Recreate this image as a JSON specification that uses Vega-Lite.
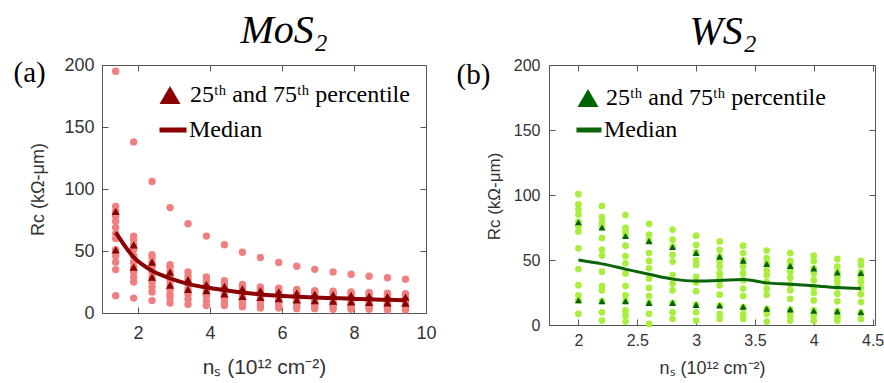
{
  "$schema": "https://vega.github.io/schema/vega-lite/v6.json",
  "padding": {"left": 12, "top": 10, "right": 0, "bottom": 0},
  "spacing": 18,
  "config": {
    "view": {"stroke": "#555", "strokeWidth": 1},
    "axis": {"grid": false, "domain": false, "tickColor": "#555", "tickSize": -6, "labelFlush": false, "labelOverlap": false,
             "labelFont": "Liberation Sans", "labelColor": "#333", "titleFont": "Liberation Sans", "titleColor": "#333", "titleFontWeight": "normal"},
    "title": {"font": "Liberation Serif", "fontStyle": "italic", "fontWeight": "normal", "fontSize": 40, "color": "black", "baseline": "alphabetic", "anchor": "middle"}
  },
  "datasets": {
    "mos2_pts": [
      {"x":1.38,"y":195},{"x":1.38,"y":86},{"x":1.38,"y":82},{"x":1.38,"y":78},{"x":1.38,"y":74},{"x":1.38,"y":69},{"x":1.38,"y":64},{"x":1.38,"y":60},{"x":1.38,"y":51},{"x":1.38,"y":46},{"x":1.38,"y":41},{"x":1.38,"y":35},{"x":1.38,"y":14},
      {"x":1.88,"y":138},{"x":1.88,"y":62},{"x":1.88,"y":59},{"x":1.88,"y":55},{"x":1.88,"y":51},{"x":1.88,"y":46},{"x":1.88,"y":41},{"x":1.88,"y":37},{"x":1.88,"y":33},{"x":1.88,"y":29},{"x":1.88,"y":25},{"x":1.88,"y":12},
      {"x":2.39,"y":106},{"x":2.39,"y":47},{"x":2.39,"y":45},{"x":2.39,"y":41},{"x":2.39,"y":37},{"x":2.39,"y":33},{"x":2.39,"y":29},{"x":2.39,"y":25},{"x":2.39,"y":21},{"x":2.39,"y":17},{"x":2.39,"y":10},
      {"x":2.89,"y":85},{"x":2.89,"y":39},{"x":2.89,"y":37},{"x":2.89,"y":33},{"x":2.89,"y":30},{"x":2.89,"y":26},{"x":2.89,"y":22.5},{"x":2.89,"y":19},{"x":2.89,"y":15},{"x":2.89,"y":12},{"x":2.89,"y":8},
      {"x":3.39,"y":72},{"x":3.39,"y":33},{"x":3.39,"y":30},{"x":3.39,"y":27},{"x":3.39,"y":23},{"x":3.39,"y":19},{"x":3.39,"y":15},{"x":3.39,"y":11},{"x":3.39,"y":7},
      {"x":3.90,"y":62},{"x":3.90,"y":29},{"x":3.90,"y":26},{"x":3.90,"y":23},{"x":3.90,"y":21},{"x":3.90,"y":18},{"x":3.90,"y":14},{"x":3.90,"y":10},{"x":3.90,"y":6},
      {"x":4.40,"y":55},{"x":4.40,"y":26},{"x":4.40,"y":23.5},{"x":4.40,"y":21},{"x":4.40,"y":18},{"x":4.40,"y":15.5},{"x":4.40,"y":12},{"x":4.40,"y":9},{"x":4.40,"y":6},
      {"x":4.90,"y":49},{"x":4.90,"y":23},{"x":4.90,"y":21},{"x":4.90,"y":19},{"x":4.90,"y":16},{"x":4.90,"y":13.5},{"x":4.90,"y":10},{"x":4.90,"y":7.5},{"x":4.90,"y":5},
      {"x":5.40,"y":44.7},{"x":5.40,"y":21},{"x":5.40,"y":19},{"x":5.40,"y":17.5},{"x":5.40,"y":15},{"x":5.40,"y":12.5},{"x":5.40,"y":9},{"x":5.40,"y":6.5},{"x":5.40,"y":4},
      {"x":5.91,"y":40.7},{"x":5.91,"y":20},{"x":5.91,"y":18},{"x":5.91,"y":16.5},{"x":5.91,"y":14},{"x":5.91,"y":11.5},{"x":5.91,"y":8.5},{"x":5.91,"y":6},{"x":5.91,"y":4},
      {"x":6.41,"y":37.8},{"x":6.41,"y":19},{"x":6.41,"y":17},{"x":6.41,"y":15.5},{"x":6.41,"y":13},{"x":6.41,"y":10.5},{"x":6.41,"y":8},{"x":6.41,"y":5.5},{"x":6.41,"y":3.5},
      {"x":6.91,"y":35.2},{"x":6.91,"y":18},{"x":6.91,"y":16.5},{"x":6.91,"y":15},{"x":6.91,"y":12.5},{"x":6.91,"y":10},{"x":6.91,"y":7.5},{"x":6.91,"y":5},{"x":6.91,"y":3.5},
      {"x":7.42,"y":33},{"x":7.42,"y":17.5},{"x":7.42,"y":16},{"x":7.42,"y":14.5},{"x":7.42,"y":12},{"x":7.42,"y":9.5},{"x":7.42,"y":7},{"x":7.42,"y":5},{"x":7.42,"y":3},
      {"x":7.92,"y":31.3},{"x":7.92,"y":17},{"x":7.92,"y":15.5},{"x":7.92,"y":14},{"x":7.92,"y":11.5},{"x":7.92,"y":9},{"x":7.92,"y":7},{"x":7.92,"y":4.5},{"x":7.92,"y":3},
      {"x":8.42,"y":29.7},{"x":8.42,"y":16.5},{"x":8.42,"y":15},{"x":8.42,"y":13.5},{"x":8.42,"y":11},{"x":8.42,"y":8.5},{"x":8.42,"y":6.5},{"x":8.42,"y":4.5},{"x":8.42,"y":3},
      {"x":8.93,"y":28.4},{"x":8.93,"y":16},{"x":8.93,"y":14.5},{"x":8.93,"y":13},{"x":8.93,"y":10.5},{"x":8.93,"y":8},{"x":8.93,"y":6.5},{"x":8.93,"y":4.5},{"x":8.93,"y":2.5},
      {"x":9.43,"y":27.3},{"x":9.43,"y":15.5},{"x":9.43,"y":14},{"x":9.43,"y":12.5},{"x":9.43,"y":10},{"x":9.43,"y":8},{"x":9.43,"y":6},{"x":9.43,"y":4},{"x":9.43,"y":2.5}
    ],
    "mos2_q": [
      {"x":1.38,"y":82},{"x":1.38,"y":51},{"x":1.88,"y":55},{"x":1.88,"y":37},{"x":2.39,"y":41},{"x":2.39,"y":29},
      {"x":2.89,"y":33},{"x":2.89,"y":22.5},{"x":3.39,"y":27},{"x":3.39,"y":19},{"x":3.90,"y":23},{"x":3.90,"y":18},
      {"x":4.40,"y":21.5},{"x":4.40,"y":15.5},{"x":4.90,"y":19.5},{"x":4.90,"y":13.5},{"x":5.40,"y":18},{"x":5.40,"y":12.5},
      {"x":5.91,"y":17},{"x":5.91,"y":11.5},{"x":6.41,"y":16},{"x":6.41,"y":10.5},{"x":6.91,"y":15.3},{"x":6.91,"y":10},
      {"x":7.42,"y":14.7},{"x":7.42,"y":9.5},{"x":7.92,"y":14.2},{"x":7.92,"y":9},{"x":8.42,"y":13.7},{"x":8.42,"y":8.5},
      {"x":8.93,"y":13.2},{"x":8.93,"y":8.2},{"x":9.43,"y":12.8},{"x":9.43,"y":8}
    ],
    "mos2_med": [
      {"x":1.38,"y":65},{"x":1.88,"y":45},{"x":2.39,"y":34},{"x":2.89,"y":28},{"x":3.39,"y":23.5},{"x":3.90,"y":20.5},
      {"x":4.40,"y":18.5},{"x":4.90,"y":16.5},{"x":5.40,"y":15},{"x":5.91,"y":14},{"x":6.41,"y":13.2},{"x":6.91,"y":12.5},
      {"x":7.42,"y":12},{"x":7.92,"y":11.5},{"x":8.42,"y":11},{"x":8.93,"y":10.6},{"x":9.43,"y":10.2}
    ],
    "ws2_pts": [
      {"x":2.0,"y":100.6},{"x":2.0,"y":92.9},{"x":2.0,"y":89},{"x":2.0,"y":85},{"x":2.0,"y":79.4},{"x":2.0,"y":76},{"x":2.0,"y":72},{"x":2.0,"y":59},{"x":2.0,"y":43},{"x":2.0,"y":30.6},{"x":2.0,"y":22.8},{"x":2.0,"y":18.9},{"x":2.0,"y":8.6},
      {"x":2.2,"y":91.6},{"x":2.2,"y":83},{"x":2.2,"y":79},{"x":2.2,"y":75.5},{"x":2.2,"y":67},{"x":2.2,"y":58},{"x":2.2,"y":53.4},{"x":2.2,"y":41},{"x":2.2,"y":30},{"x":2.2,"y":26.7},{"x":2.2,"y":18.4},{"x":2.2,"y":9.8},{"x":2.2,"y":3.4},
      {"x":2.4,"y":84.6},{"x":2.4,"y":74.7},{"x":2.4,"y":72},{"x":2.4,"y":69},{"x":2.4,"y":61},{"x":2.4,"y":53},{"x":2.4,"y":47.5},{"x":2.4,"y":39.7},{"x":2.4,"y":30},{"x":2.4,"y":22.8},{"x":2.4,"y":18.4},{"x":2.4,"y":11.2},{"x":2.4,"y":7.3},{"x":2.4,"y":2.6},
      {"x":2.6,"y":77.8},{"x":2.6,"y":69.5},{"x":2.6,"y":64.8},{"x":2.6,"y":55.3},{"x":2.6,"y":49.3},{"x":2.6,"y":43.6},{"x":2.6,"y":35.8},{"x":2.6,"y":28.5},{"x":2.6,"y":22.3},{"x":2.6,"y":17.1},{"x":2.6,"y":8.6},{"x":2.6,"y":0.8},
      {"x":2.8,"y":73.4},{"x":2.8,"y":65.6},{"x":2.8,"y":60.4},{"x":2.8,"y":54},{"x":2.8,"y":48.8},{"x":2.8,"y":38.4},{"x":2.8,"y":31.9},{"x":2.8,"y":26.7},{"x":2.8,"y":17.1},{"x":2.8,"y":9.8},{"x":2.8,"y":4.7},
      {"x":3.0,"y":68.7},{"x":3.0,"y":61.7},{"x":3.0,"y":56},{"x":3.0,"y":50},{"x":3.0,"y":46.2},{"x":3.0,"y":37.1},{"x":3.0,"y":32.7},{"x":3.0,"y":25.9},{"x":3.0,"y":15.6},{"x":3.0,"y":9.8},{"x":3.0,"y":3.4},
      {"x":3.2,"y":64.3},{"x":3.2,"y":57.8},{"x":3.2,"y":52.7},{"x":3.2,"y":48.8},{"x":3.2,"y":44.9},{"x":3.2,"y":39.7},{"x":3.2,"y":35.8},{"x":3.2,"y":30.6},{"x":3.2,"y":23.3},{"x":3.2,"y":15},{"x":3.2,"y":8.6},{"x":3.2,"y":4.7},
      {"x":3.4,"y":61},{"x":3.4,"y":55.3},{"x":3.4,"y":50},{"x":3.4,"y":44.9},{"x":3.4,"y":39.7},{"x":3.4,"y":34.5},{"x":3.4,"y":28},{"x":3.4,"y":22.3},{"x":3.4,"y":13.7},{"x":3.4,"y":8.6},{"x":3.4,"y":4.7},
      {"x":3.6,"y":57.3},{"x":3.6,"y":51.4},{"x":3.6,"y":47.5},{"x":3.6,"y":42},{"x":3.6,"y":38.4},{"x":3.6,"y":33.2},{"x":3.6,"y":28},{"x":3.6,"y":23.3},{"x":3.6,"y":12.5},{"x":3.6,"y":8.6},{"x":3.6,"y":2.6},
      {"x":3.8,"y":55.3},{"x":3.8,"y":49.3},{"x":3.8,"y":46.2},{"x":3.8,"y":41},{"x":3.8,"y":36.3},{"x":3.8,"y":31.1},{"x":3.8,"y":26.7},{"x":3.8,"y":20.2},{"x":3.8,"y":11.9},{"x":3.8,"y":7.3},{"x":3.8,"y":3.4},
      {"x":4.0,"y":53.4},{"x":4.0,"y":49.3},{"x":4.0,"y":43.6},{"x":4.0,"y":39.7},{"x":4.0,"y":34.5},{"x":4.0,"y":29.3},{"x":4.0,"y":24.9},{"x":4.0,"y":18.9},{"x":4.0,"y":11.2},{"x":4.0,"y":7.3},{"x":4.0,"y":3.4},
      {"x":4.2,"y":50.8},{"x":4.2,"y":44.9},{"x":4.2,"y":40.5},{"x":4.2,"y":37.1},{"x":4.2,"y":33.7},{"x":4.2,"y":29.3},{"x":4.2,"y":24.1},{"x":4.2,"y":18.2},{"x":4.2,"y":10.6},{"x":4.2,"y":6},{"x":4.2,"y":3.4},
      {"x":4.4,"y":49.3},{"x":4.4,"y":46.2},{"x":4.4,"y":40.5},{"x":4.4,"y":37.1},{"x":4.4,"y":33.2},{"x":4.4,"y":28.5},{"x":4.4,"y":23.6},{"x":4.4,"y":17.6},{"x":4.4,"y":9.8},{"x":4.4,"y":4.7}
    ],
    "ws2_q": [
      {"x":2.0,"y":79},{"x":2.0,"y":19},{"x":2.2,"y":75},{"x":2.2,"y":18.4},{"x":2.4,"y":68.5},{"x":2.4,"y":18.4},
      {"x":2.6,"y":64.5},{"x":2.6,"y":17},{"x":2.8,"y":60},{"x":2.8,"y":17},{"x":3.0,"y":55.5},{"x":3.0,"y":15.5},
      {"x":3.2,"y":52.5},{"x":3.2,"y":15},{"x":3.4,"y":49.5},{"x":3.4,"y":14},{"x":3.6,"y":47},{"x":3.6,"y":12.5},
      {"x":3.8,"y":45.5},{"x":3.8,"y":12},{"x":4.0,"y":43.5},{"x":4.0,"y":11},{"x":4.2,"y":40.5},{"x":4.2,"y":10.5},
      {"x":4.4,"y":40},{"x":4.4,"y":9.8}
    ],
    "ws2_med": [
      {"x":2.0,"y":50},{"x":2.2,"y":47},{"x":2.4,"y":43},{"x":2.6,"y":39},{"x":2.8,"y":35.3},{"x":3.0,"y":33.8},
      {"x":3.2,"y":34.2},{"x":3.4,"y":35},{"x":3.6,"y":32.4},{"x":3.8,"y":31.4},{"x":4.0,"y":30.1},{"x":4.2,"y":28.8},{"x":4.4,"y":28}
    ]
  },
  "resolve": {"scale": {"fill": "independent", "stroke": "independent"}, "legend": {"fill": "independent", "stroke": "independent"}},
  "hconcat": [
    {
      "width": 324,
      "height": 248,
      "title": {"text": "MoS₂", "dx": 20, "offset": 5},
      "resolve": {"axis": {"x": "independent", "y": "independent"}},
      "layer": [
        {
          "data": {"name": "mos2_pts"},
          "mark": {"type": "circle", "size": 55, "color": "#F08080", "opacity": 1},
          "encoding": {
            "x": {"field": "x", "type": "quantitative", "scale": {"domain": [1, 10], "nice": false, "zero": false},
                  "axis": {"orient": "bottom", "values": [2, 4, 6, 8, 10], "title": "nₛ (10¹² cm⁻²)", "labelFontSize": 18, "labelPadding": 17, "titleFontSize": 21, "titlePadding": 14}},
            "y": {"field": "y", "type": "quantitative", "scale": {"domain": [0, 200], "nice": false},
                  "axis": {"orient": "left", "values": [0, 50, 100, 150, 200], "title": "Rc (kΩ-μm)", "labelFontSize": 18, "labelPadding": 14,
                           "titleFontSize": 18, "titleX": -64, "titleY": 124, "titleAngle": -90, "titleAlign": "center", "titleBaseline": "middle"}}
          }
        },
        {
          "data": {"name": "mos2_med"},
          "mark": {"type": "line", "interpolate": "monotone", "strokeWidth": 4},
          "encoding": {
            "x": {"field": "x", "type": "quantitative", "axis": null},
            "y": {"field": "y", "type": "quantitative", "axis": null},
            "stroke": {"datum": "Median", "scale": {"range": ["#8B0000"]},
                       "legend": {"orient": "none", "legendX": 55, "legendY": 49, "title": null, "symbolType": "stroke", "symbolSize": 729, "symbolStrokeWidth": 5, "labelFont": "Liberation Serif", "labelFontSize": 24, "labelColor": "black", "labelLimit": 500, "labelOffset": 0, "padding": 0}}
          }
        },
        {
          "data": {"name": "mos2_q"},
          "mark": {"type": "point", "shape": "triangle-up", "filled": true, "size": 70, "opacity": 1},
          "encoding": {
            "x": {"field": "x", "type": "quantitative",
                  "axis": {"orient": "top", "values": [2, 4, 6, 8], "labels": false, "title": "(a)", "titleX": -89, "titleY": 16, "titleAlign": "left", "titleBaseline": "alphabetic", "titleAngle": 0, "titleFont": "Liberation Serif", "titleFontSize": 29, "titleColor": "black"}},
            "y": {"field": "y", "type": "quantitative", "axis": {"orient": "right", "values": [50, 100, 150], "labels": false, "title": null}},
            "fill": {"datum": "25ᵗʰ and 75ᵗʰ percentile", "scale": {"range": ["#8B0000"]},
                     "legend": {"orient": "none", "legendX": 56, "legendY": 18, "title": null, "symbolType": "triangle-up", "symbolSize": 441, "symbolStrokeWidth": 0, "labelFont": "Liberation Serif", "labelFontSize": 24, "labelColor": "black", "labelLimit": 500, "labelOffset": 8, "padding": 0}}
          }
        }
      ]
    },
    {
      "width": 326,
      "height": 260,
      "title": {"text": "WS₂", "dx": 11, "offset": 5},
      "resolve": {"axis": {"x": "independent", "y": "independent"}},
      "layer": [
        {
          "data": {"name": "ws2_pts"},
          "mark": {"type": "circle", "size": 45, "color": "#A8EE3C", "opacity": 1},
          "encoding": {
            "x": {"field": "x", "type": "quantitative", "scale": {"domain": [1.75, 4.52], "nice": false, "zero": false},
                  "axis": {"orient": "bottom", "values": [2, 2.5, 3, 3.5, 4, 4.5], "format": "~g", "title": "nₛ (10¹² cm⁻²)", "labelFontSize": 16, "labelPadding": 13, "titleFontSize": 18, "titlePadding": 11}},
            "y": {"field": "y", "type": "quantitative", "scale": {"domain": [0, 200], "nice": false},
                  "axis": {"orient": "left", "values": [0, 50, 100, 150, 200], "title": "Rc (kΩ-μm)", "labelFontSize": 16, "labelPadding": 15,
                           "titleFontSize": 17, "titleX": -55, "titleY": 131, "titleAngle": -90, "titleAlign": "center", "titleBaseline": "middle"}}
          }
        },
        {
          "data": {"name": "ws2_med"},
          "mark": {"type": "line", "interpolate": "monotone", "strokeWidth": 3},
          "encoding": {
            "x": {"field": "x", "type": "quantitative", "axis": null},
            "y": {"field": "y", "type": "quantitative", "axis": null},
            "stroke": {"datum": "Median", "scale": {"range": ["#0A650A"]},
                       "legend": {"orient": "none", "legendX": 25, "legendY": 50, "title": null, "symbolType": "stroke", "symbolSize": 625, "symbolStrokeWidth": 5, "labelFont": "Liberation Serif", "labelFontSize": 24, "labelColor": "black", "labelLimit": 500, "labelOffset": 0, "padding": 0}}
          }
        },
        {
          "data": {"name": "ws2_q"},
          "mark": {"type": "point", "shape": "triangle-up", "filled": true, "size": 50, "opacity": 1},
          "encoding": {
            "x": {"field": "x", "type": "quantitative",
                  "axis": {"orient": "top", "values": [2, 2.5, 3, 3.5, 4, 4.5], "labels": false, "title": "(b)", "titleX": -93, "titleY": 18, "titleAlign": "left", "titleBaseline": "alphabetic", "titleAngle": 0, "titleFont": "Liberation Serif", "titleFontSize": 29, "titleColor": "black"}},
            "y": {"field": "y", "type": "quantitative", "axis": {"orient": "right", "values": [50, 100, 150], "labels": false, "title": null}},
            "fill": {"datum": "25ᵗʰ and 75ᵗʰ percentile", "scale": {"range": ["#006400"]},
                     "legend": {"orient": "none", "legendX": 27, "legendY": 21, "title": null, "symbolType": "triangle-up", "symbolSize": 441, "symbolStrokeWidth": 0, "labelFont": "Liberation Serif", "labelFontSize": 24, "labelColor": "black", "labelLimit": 500, "labelOffset": 6, "padding": 0}}
          }
        }
      ]
    }
  ]
}
